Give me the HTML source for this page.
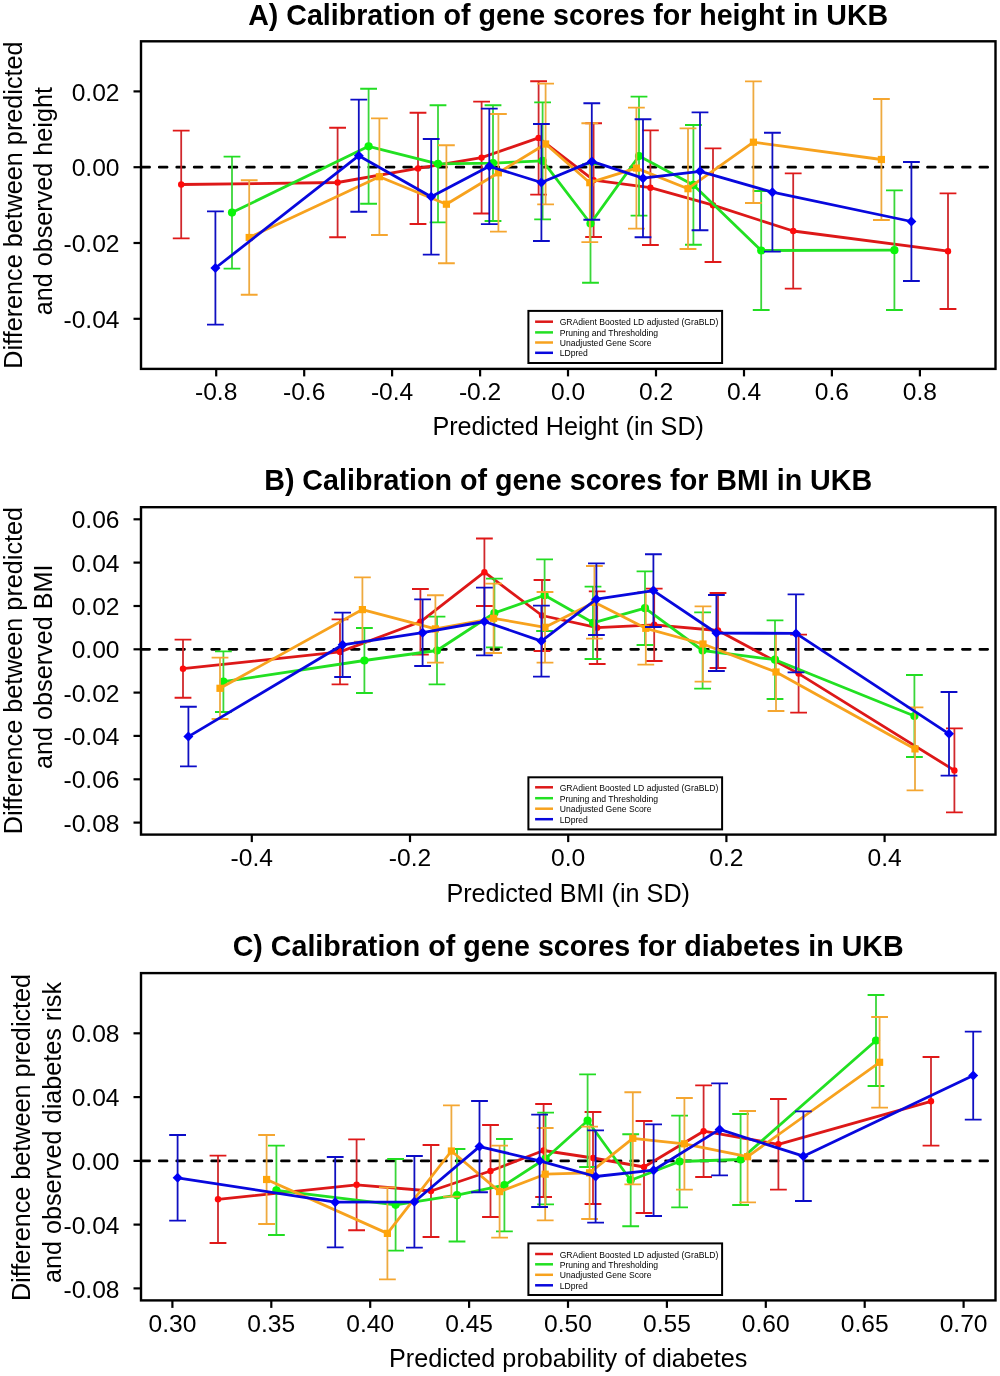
<!DOCTYPE html>
<html><head><meta charset="utf-8"><style>
html,body{margin:0;padding:0;background:#fff;width:1000px;height:1376px;overflow:hidden}
svg{display:block;will-change:transform}
text{font-family:"Liberation Sans",sans-serif;fill:#000}
</style></head><body>
<svg width="1000" height="1376" viewBox="0 0 1000 1376">
<rect width="1000" height="1376" fill="#fff"/>
<text x="568.2" y="24.8" text-anchor="middle" font-weight="bold" font-size="29.6" textLength="640" lengthAdjust="spacingAndGlyphs">A) Calibration of gene scores for height in UKB</text>
<line x1="141.8" y1="167.2" x2="994.5" y2="167.2" stroke="#000" stroke-width="2.7" stroke-dasharray="7.8 9.66" stroke-linecap="round"/>
<path d="M181.2 130.6V238.4" stroke="#d0282c" stroke-width="1.8" fill="none"/>
<path d="M172.8 130.6h16.8M172.8 238.4h16.8" stroke="#e01818" stroke-width="1.9" fill="none"/>
<path d="M337.6 127.8V237.2" stroke="#d0282c" stroke-width="1.8" fill="none"/>
<path d="M329.2 127.8h16.8M329.2 237.2h16.8" stroke="#e01818" stroke-width="1.9" fill="none"/>
<path d="M418.0 112.8V224.0" stroke="#d0282c" stroke-width="1.8" fill="none"/>
<path d="M409.6 112.8h16.8M409.6 224.0h16.8" stroke="#e01818" stroke-width="1.9" fill="none"/>
<path d="M481.6 101.6V213.5" stroke="#d0282c" stroke-width="1.8" fill="none"/>
<path d="M473.2 101.6h16.8M473.2 213.5h16.8" stroke="#e01818" stroke-width="1.9" fill="none"/>
<path d="M538.6 81.2V194.6" stroke="#d0282c" stroke-width="1.8" fill="none"/>
<path d="M530.2 81.2h16.8M530.2 194.6h16.8" stroke="#e01818" stroke-width="1.9" fill="none"/>
<path d="M593.6 123.2V237.0" stroke="#d0282c" stroke-width="1.8" fill="none"/>
<path d="M585.2 123.2h16.8M585.2 237.0h16.8" stroke="#e01818" stroke-width="1.9" fill="none"/>
<path d="M650.4 130.4V245.0" stroke="#d0282c" stroke-width="1.8" fill="none"/>
<path d="M642.0 130.4h16.8M642.0 245.0h16.8" stroke="#e01818" stroke-width="1.9" fill="none"/>
<path d="M713.0 148.4V262.0" stroke="#d0282c" stroke-width="1.8" fill="none"/>
<path d="M704.6 148.4h16.8M704.6 262.0h16.8" stroke="#e01818" stroke-width="1.9" fill="none"/>
<path d="M793.2 173.4V288.6" stroke="#d0282c" stroke-width="1.8" fill="none"/>
<path d="M784.8 173.4h16.8M784.8 288.6h16.8" stroke="#e01818" stroke-width="1.9" fill="none"/>
<path d="M948.0 193.4V309.0" stroke="#d0282c" stroke-width="1.8" fill="none"/>
<path d="M939.6 193.4h16.8M939.6 309.0h16.8" stroke="#e01818" stroke-width="1.9" fill="none"/>
<path d="M181.2 184.5 L337.6 182.5 L418.0 168.4 L481.6 157.6 L538.6 137.9 L593.6 180.1 L650.4 187.7 L713.0 205.2 L793.2 231.0 L948.0 251.2" stroke="#dd1818" stroke-width="2.8" fill="none" stroke-linejoin="round"/>
<circle cx="181.2" cy="184.5" r="3.2" fill="#ff0a0a"/>
<circle cx="337.6" cy="182.5" r="3.2" fill="#ff0a0a"/>
<circle cx="418.0" cy="168.4" r="3.2" fill="#ff0a0a"/>
<circle cx="481.6" cy="157.6" r="3.2" fill="#ff0a0a"/>
<circle cx="538.6" cy="137.9" r="3.2" fill="#ff0a0a"/>
<circle cx="593.6" cy="180.1" r="3.2" fill="#ff0a0a"/>
<circle cx="650.4" cy="187.7" r="3.2" fill="#ff0a0a"/>
<circle cx="713.0" cy="205.2" r="3.2" fill="#ff0a0a"/>
<circle cx="793.2" cy="231.0" r="3.2" fill="#ff0a0a"/>
<circle cx="948.0" cy="251.2" r="3.2" fill="#ff0a0a"/>
<path d="M232.0 156.6V268.6" stroke="#3ad63a" stroke-width="1.8" fill="none"/>
<path d="M223.6 156.6h16.8M223.6 268.6h16.8" stroke="#22dd22" stroke-width="1.9" fill="none"/>
<path d="M368.6 88.8V203.8" stroke="#3ad63a" stroke-width="1.8" fill="none"/>
<path d="M360.2 88.8h16.8M360.2 203.8h16.8" stroke="#22dd22" stroke-width="1.9" fill="none"/>
<path d="M438.0 105.2V222.4" stroke="#3ad63a" stroke-width="1.8" fill="none"/>
<path d="M429.6 105.2h16.8M429.6 222.4h16.8" stroke="#22dd22" stroke-width="1.9" fill="none"/>
<path d="M493.0 105.2V221.0" stroke="#3ad63a" stroke-width="1.8" fill="none"/>
<path d="M484.6 105.2h16.8M484.6 221.0h16.8" stroke="#22dd22" stroke-width="1.9" fill="none"/>
<path d="M542.6 102.4V219.4" stroke="#3ad63a" stroke-width="1.8" fill="none"/>
<path d="M534.2 102.4h16.8M534.2 219.4h16.8" stroke="#22dd22" stroke-width="1.9" fill="none"/>
<path d="M590.5 164.3V282.7" stroke="#3ad63a" stroke-width="1.8" fill="none"/>
<path d="M582.1 164.3h16.8M582.1 282.7h16.8" stroke="#22dd22" stroke-width="1.9" fill="none"/>
<path d="M639.0 96.6V215.6" stroke="#3ad63a" stroke-width="1.8" fill="none"/>
<path d="M630.6 96.6h16.8M630.6 215.6h16.8" stroke="#22dd22" stroke-width="1.9" fill="none"/>
<path d="M693.4 125.0V244.8" stroke="#3ad63a" stroke-width="1.8" fill="none"/>
<path d="M685.0 125.0h16.8M685.0 244.8h16.8" stroke="#22dd22" stroke-width="1.9" fill="none"/>
<path d="M761.2 191.0V310.0" stroke="#3ad63a" stroke-width="1.8" fill="none"/>
<path d="M752.8 191.0h16.8M752.8 310.0h16.8" stroke="#22dd22" stroke-width="1.9" fill="none"/>
<path d="M894.4 190.4V310.0" stroke="#3ad63a" stroke-width="1.8" fill="none"/>
<path d="M886.0 190.4h16.8M886.0 310.0h16.8" stroke="#22dd22" stroke-width="1.9" fill="none"/>
<path d="M232.0 212.6 L368.6 146.3 L438.0 163.8 L493.0 163.1 L542.6 160.9 L590.5 223.5 L639.0 156.1 L693.4 184.9 L761.2 250.5 L894.4 250.2" stroke="#22e022" stroke-width="2.8" fill="none" stroke-linejoin="round"/>
<circle cx="232.0" cy="212.6" r="4.1" fill="#0af50a"/>
<circle cx="368.6" cy="146.3" r="4.1" fill="#0af50a"/>
<circle cx="438.0" cy="163.8" r="4.1" fill="#0af50a"/>
<circle cx="493.0" cy="163.1" r="4.1" fill="#0af50a"/>
<circle cx="542.6" cy="160.9" r="4.1" fill="#0af50a"/>
<circle cx="590.5" cy="223.5" r="4.1" fill="#0af50a"/>
<circle cx="639.0" cy="156.1" r="4.1" fill="#0af50a"/>
<circle cx="693.4" cy="184.9" r="4.1" fill="#0af50a"/>
<circle cx="761.2" cy="250.5" r="4.1" fill="#0af50a"/>
<circle cx="894.4" cy="250.2" r="4.1" fill="#0af50a"/>
<path d="M249.2 180.2V294.8" stroke="#eeaa40" stroke-width="1.8" fill="none"/>
<path d="M240.8 180.2h16.8M240.8 294.8h16.8" stroke="#f5a630" stroke-width="1.9" fill="none"/>
<path d="M379.4 118.4V235.0" stroke="#eeaa40" stroke-width="1.8" fill="none"/>
<path d="M371.0 118.4h16.8M371.0 235.0h16.8" stroke="#f5a630" stroke-width="1.9" fill="none"/>
<path d="M446.4 145.2V263.2" stroke="#eeaa40" stroke-width="1.8" fill="none"/>
<path d="M438.0 145.2h16.8M438.0 263.2h16.8" stroke="#f5a630" stroke-width="1.9" fill="none"/>
<path d="M498.4 114.0V231.6" stroke="#eeaa40" stroke-width="1.8" fill="none"/>
<path d="M490.0 114.0h16.8M490.0 231.6h16.8" stroke="#f5a630" stroke-width="1.9" fill="none"/>
<path d="M545.6 83.6V204.4" stroke="#eeaa40" stroke-width="1.8" fill="none"/>
<path d="M537.2 83.6h16.8M537.2 204.4h16.8" stroke="#f5a630" stroke-width="1.9" fill="none"/>
<path d="M589.8 123.2V242.1" stroke="#eeaa40" stroke-width="1.8" fill="none"/>
<path d="M581.4 123.2h16.8M581.4 242.1h16.8" stroke="#f5a630" stroke-width="1.9" fill="none"/>
<path d="M636.4 107.6V228.6" stroke="#eeaa40" stroke-width="1.8" fill="none"/>
<path d="M628.0 107.6h16.8M628.0 228.6h16.8" stroke="#f5a630" stroke-width="1.9" fill="none"/>
<path d="M688.0 128.4V249.0" stroke="#eeaa40" stroke-width="1.8" fill="none"/>
<path d="M679.6 128.4h16.8M679.6 249.0h16.8" stroke="#f5a630" stroke-width="1.9" fill="none"/>
<path d="M753.4 81.4V203.0" stroke="#eeaa40" stroke-width="1.8" fill="none"/>
<path d="M745.0 81.4h16.8M745.0 203.0h16.8" stroke="#f5a630" stroke-width="1.9" fill="none"/>
<path d="M881.4 99.0V220.0" stroke="#eeaa40" stroke-width="1.8" fill="none"/>
<path d="M873.0 99.0h16.8M873.0 220.0h16.8" stroke="#f5a630" stroke-width="1.9" fill="none"/>
<path d="M249.2 237.5 L379.4 176.7 L446.4 204.2 L498.4 172.8 L545.6 144.0 L589.8 182.7 L636.4 168.1 L688.0 188.7 L753.4 142.2 L881.4 159.5" stroke="#f7a21e" stroke-width="2.8" fill="none" stroke-linejoin="round"/>
<rect x="245.6" y="233.9" width="7.2" height="7.2" fill="#ffa50a"/>
<rect x="375.8" y="173.1" width="7.2" height="7.2" fill="#ffa50a"/>
<rect x="442.8" y="200.6" width="7.2" height="7.2" fill="#ffa50a"/>
<rect x="494.8" y="169.2" width="7.2" height="7.2" fill="#ffa50a"/>
<rect x="542.0" y="140.4" width="7.2" height="7.2" fill="#ffa50a"/>
<rect x="586.2" y="179.1" width="7.2" height="7.2" fill="#ffa50a"/>
<rect x="632.8" y="164.5" width="7.2" height="7.2" fill="#ffa50a"/>
<rect x="684.4" y="185.1" width="7.2" height="7.2" fill="#ffa50a"/>
<rect x="749.8" y="138.6" width="7.2" height="7.2" fill="#ffa50a"/>
<rect x="877.8" y="155.9" width="7.2" height="7.2" fill="#ffa50a"/>
<path d="M215.4 211.4V324.6" stroke="#1010c0" stroke-width="1.8" fill="none"/>
<path d="M207.0 211.4h16.8M207.0 324.6h16.8" stroke="#0c0cc8" stroke-width="1.9" fill="none"/>
<path d="M358.8 99.6V211.8" stroke="#1010c0" stroke-width="1.8" fill="none"/>
<path d="M350.4 99.6h16.8M350.4 211.8h16.8" stroke="#0c0cc8" stroke-width="1.9" fill="none"/>
<path d="M431.2 139.0V254.6" stroke="#1010c0" stroke-width="1.8" fill="none"/>
<path d="M422.8 139.0h16.8M422.8 254.6h16.8" stroke="#0c0cc8" stroke-width="1.9" fill="none"/>
<path d="M489.3 108.6V224.1" stroke="#1010c0" stroke-width="1.8" fill="none"/>
<path d="M480.9 108.6h16.8M480.9 224.1h16.8" stroke="#0c0cc8" stroke-width="1.9" fill="none"/>
<path d="M541.4 124.0V241.0" stroke="#1010c0" stroke-width="1.8" fill="none"/>
<path d="M533.0 124.0h16.8M533.0 241.0h16.8" stroke="#0c0cc8" stroke-width="1.9" fill="none"/>
<path d="M591.8 103.2V219.7" stroke="#1010c0" stroke-width="1.8" fill="none"/>
<path d="M583.4 103.2h16.8M583.4 219.7h16.8" stroke="#0c0cc8" stroke-width="1.9" fill="none"/>
<path d="M643.0 119.2V237.2" stroke="#1010c0" stroke-width="1.8" fill="none"/>
<path d="M634.6 119.2h16.8M634.6 237.2h16.8" stroke="#0c0cc8" stroke-width="1.9" fill="none"/>
<path d="M700.0 112.4V230.2" stroke="#1010c0" stroke-width="1.8" fill="none"/>
<path d="M691.6 112.4h16.8M691.6 230.2h16.8" stroke="#0c0cc8" stroke-width="1.9" fill="none"/>
<path d="M772.4 132.8V251.6" stroke="#1010c0" stroke-width="1.8" fill="none"/>
<path d="M764.0 132.8h16.8M764.0 251.6h16.8" stroke="#0c0cc8" stroke-width="1.9" fill="none"/>
<path d="M911.4 162.0V281.0" stroke="#1010c0" stroke-width="1.8" fill="none"/>
<path d="M903.0 162.0h16.8M903.0 281.0h16.8" stroke="#0c0cc8" stroke-width="1.9" fill="none"/>
<path d="M215.4 268.0 L358.8 155.7 L431.2 196.8 L489.3 166.3 L541.4 182.5 L591.8 161.4 L643.0 178.2 L700.0 171.3 L772.4 192.2 L911.4 221.5" stroke="#0808dd" stroke-width="2.8" fill="none" stroke-linejoin="round"/>
<path d="M215.4 263.0L220.4 268.0L215.4 273.0L210.4 268.0Z" fill="#0000f5"/>
<path d="M358.8 150.7L363.8 155.7L358.8 160.7L353.8 155.7Z" fill="#0000f5"/>
<path d="M431.2 191.8L436.2 196.8L431.2 201.8L426.2 196.8Z" fill="#0000f5"/>
<path d="M489.3 161.3L494.3 166.3L489.3 171.3L484.3 166.3Z" fill="#0000f5"/>
<path d="M541.4 177.5L546.4 182.5L541.4 187.5L536.4 182.5Z" fill="#0000f5"/>
<path d="M591.8 156.4L596.8 161.4L591.8 166.4L586.8 161.4Z" fill="#0000f5"/>
<path d="M643.0 173.2L648.0 178.2L643.0 183.2L638.0 178.2Z" fill="#0000f5"/>
<path d="M700.0 166.3L705.0 171.3L700.0 176.3L695.0 171.3Z" fill="#0000f5"/>
<path d="M772.4 187.2L777.4 192.2L772.4 197.2L767.4 192.2Z" fill="#0000f5"/>
<path d="M911.4 216.5L916.4 221.5L911.4 226.5L906.4 221.5Z" fill="#0000f5"/>
<rect x="141" y="41.3" width="854.5" height="327.59999999999997" fill="none" stroke="#000" stroke-width="2.4"/>
<line x1="133.5" y1="91.4" x2="141" y2="91.4" stroke="#000" stroke-width="2.2"/>
<text x="119.5" y="100.5" text-anchor="end" font-size="24.6">0.02</text>
<line x1="133.5" y1="167.2" x2="141" y2="167.2" stroke="#000" stroke-width="2.2"/>
<text x="119.5" y="176.3" text-anchor="end" font-size="24.6">0.00</text>
<line x1="133.5" y1="243.0" x2="141" y2="243.0" stroke="#000" stroke-width="2.2"/>
<text x="119.5" y="252.1" text-anchor="end" font-size="24.6">-0.02</text>
<line x1="133.5" y1="318.8" x2="141" y2="318.8" stroke="#000" stroke-width="2.2"/>
<text x="119.5" y="327.9" text-anchor="end" font-size="24.6">-0.04</text>
<line x1="216.2" y1="368.9" x2="216.2" y2="376.4" stroke="#000" stroke-width="2.2"/>
<text x="216.2" y="400.3" text-anchor="middle" font-size="24.6">-0.8</text>
<line x1="304.2" y1="368.9" x2="304.2" y2="376.4" stroke="#000" stroke-width="2.2"/>
<text x="304.2" y="400.3" text-anchor="middle" font-size="24.6">-0.6</text>
<line x1="392.1" y1="368.9" x2="392.1" y2="376.4" stroke="#000" stroke-width="2.2"/>
<text x="392.1" y="400.3" text-anchor="middle" font-size="24.6">-0.4</text>
<line x1="480.1" y1="368.9" x2="480.1" y2="376.4" stroke="#000" stroke-width="2.2"/>
<text x="480.1" y="400.3" text-anchor="middle" font-size="24.6">-0.2</text>
<line x1="568.0" y1="368.9" x2="568.0" y2="376.4" stroke="#000" stroke-width="2.2"/>
<text x="568.0" y="400.3" text-anchor="middle" font-size="24.6">0.0</text>
<line x1="656.0" y1="368.9" x2="656.0" y2="376.4" stroke="#000" stroke-width="2.2"/>
<text x="656.0" y="400.3" text-anchor="middle" font-size="24.6">0.2</text>
<line x1="744.0" y1="368.9" x2="744.0" y2="376.4" stroke="#000" stroke-width="2.2"/>
<text x="744.0" y="400.3" text-anchor="middle" font-size="24.6">0.4</text>
<line x1="831.9" y1="368.9" x2="831.9" y2="376.4" stroke="#000" stroke-width="2.2"/>
<text x="831.9" y="400.3" text-anchor="middle" font-size="24.6">0.6</text>
<line x1="919.9" y1="368.9" x2="919.9" y2="376.4" stroke="#000" stroke-width="2.2"/>
<text x="919.9" y="400.3" text-anchor="middle" font-size="24.6">0.8</text>
<text transform="translate(21.5,205.1) rotate(-90)" text-anchor="middle" font-size="25.2">Difference between predicted</text>
<text transform="translate(52.3,201.2) rotate(-90)" text-anchor="middle" font-size="25.2">and observed height</text>
<text x="568.2" y="435.4" text-anchor="middle" font-size="25.2">Predicted Height (in SD)</text>
<rect x="528.4" y="310.9" width="193.70000000000005" height="52.10000000000002" fill="#fff" stroke="#000" stroke-width="2.0"/>
<line x1="535.1" y1="321.7" x2="553.0" y2="321.7" stroke="#dd1818" stroke-width="2.5"/>
<text x="559.6999999999999" y="325.2" font-size="8.6">GRAdient Boosted LD adjusted (GraBLD)</text>
<line x1="535.1" y1="332.4" x2="553.0" y2="332.4" stroke="#22e022" stroke-width="2.5"/>
<text x="559.6999999999999" y="335.9" font-size="8.6">Pruning and Thresholding</text>
<line x1="535.1" y1="342.5" x2="553.0" y2="342.5" stroke="#f7a21e" stroke-width="2.5"/>
<text x="559.6999999999999" y="346.0" font-size="8.6">Unadjusted Gene Score</text>
<line x1="535.1" y1="352.8" x2="553.0" y2="352.8" stroke="#0808dd" stroke-width="2.5"/>
<text x="559.6999999999999" y="356.3" font-size="8.6">LDpred</text>
<text x="568.2" y="490.3" text-anchor="middle" font-weight="bold" font-size="29.6" textLength="608" lengthAdjust="spacingAndGlyphs">B) Calibration of gene scores for BMI in UKB</text>
<line x1="141.8" y1="649.3" x2="994.5" y2="649.3" stroke="#000" stroke-width="2.7" stroke-dasharray="7.8 9.66" stroke-linecap="round"/>
<path d="M183.0 639.6V697.8" stroke="#d0282c" stroke-width="1.8" fill="none"/>
<path d="M174.6 639.6h16.8M174.6 697.8h16.8" stroke="#e01818" stroke-width="1.9" fill="none"/>
<path d="M340.0 619.4V684.4" stroke="#d0282c" stroke-width="1.8" fill="none"/>
<path d="M331.6 619.4h16.8M331.6 684.4h16.8" stroke="#e01818" stroke-width="1.9" fill="none"/>
<path d="M420.4 589.0V654.6" stroke="#d0282c" stroke-width="1.8" fill="none"/>
<path d="M412.0 589.0h16.8M412.0 654.6h16.8" stroke="#e01818" stroke-width="1.9" fill="none"/>
<path d="M484.4 538.5V606.0" stroke="#d0282c" stroke-width="1.8" fill="none"/>
<path d="M476.0 538.5h16.8M476.0 606.0h16.8" stroke="#e01818" stroke-width="1.9" fill="none"/>
<path d="M542.0 580.0V651.0" stroke="#d0282c" stroke-width="1.8" fill="none"/>
<path d="M533.6 580.0h16.8M533.6 651.0h16.8" stroke="#e01818" stroke-width="1.9" fill="none"/>
<path d="M597.2 591.4V664.0" stroke="#d0282c" stroke-width="1.8" fill="none"/>
<path d="M588.8 591.4h16.8M588.8 664.0h16.8" stroke="#e01818" stroke-width="1.9" fill="none"/>
<path d="M654.2 588.6V661.0" stroke="#d0282c" stroke-width="1.8" fill="none"/>
<path d="M645.8 588.6h16.8M645.8 661.0h16.8" stroke="#e01818" stroke-width="1.9" fill="none"/>
<path d="M718.0 593.0V668.0" stroke="#d0282c" stroke-width="1.8" fill="none"/>
<path d="M709.6 593.0h16.8M709.6 668.0h16.8" stroke="#e01818" stroke-width="1.9" fill="none"/>
<path d="M798.6 634.6V712.6" stroke="#d0282c" stroke-width="1.8" fill="none"/>
<path d="M790.2 634.6h16.8M790.2 712.6h16.8" stroke="#e01818" stroke-width="1.9" fill="none"/>
<path d="M954.4 728.4V812.4" stroke="#d0282c" stroke-width="1.8" fill="none"/>
<path d="M946.0 728.4h16.8M946.0 812.4h16.8" stroke="#e01818" stroke-width="1.9" fill="none"/>
<path d="M183.0 668.7 L340.0 651.9 L420.4 621.8 L484.4 572.2 L542.0 615.5 L597.2 627.7 L654.2 624.8 L718.0 630.5 L798.6 673.6 L954.4 770.4" stroke="#dd1818" stroke-width="2.8" fill="none" stroke-linejoin="round"/>
<circle cx="183.0" cy="668.7" r="3.2" fill="#ff0a0a"/>
<circle cx="340.0" cy="651.9" r="3.2" fill="#ff0a0a"/>
<circle cx="420.4" cy="621.8" r="3.2" fill="#ff0a0a"/>
<circle cx="484.4" cy="572.2" r="3.2" fill="#ff0a0a"/>
<circle cx="542.0" cy="615.5" r="3.2" fill="#ff0a0a"/>
<circle cx="597.2" cy="627.7" r="3.2" fill="#ff0a0a"/>
<circle cx="654.2" cy="624.8" r="3.2" fill="#ff0a0a"/>
<circle cx="718.0" cy="630.5" r="3.2" fill="#ff0a0a"/>
<circle cx="798.6" cy="673.6" r="3.2" fill="#ff0a0a"/>
<circle cx="954.4" cy="770.4" r="3.2" fill="#ff0a0a"/>
<path d="M223.4 651.4V712.0" stroke="#3ad63a" stroke-width="1.8" fill="none"/>
<path d="M215.0 651.4h16.8M215.0 712.0h16.8" stroke="#22dd22" stroke-width="1.9" fill="none"/>
<path d="M364.4 628.0V693.0" stroke="#3ad63a" stroke-width="1.8" fill="none"/>
<path d="M356.0 628.0h16.8M356.0 693.0h16.8" stroke="#22dd22" stroke-width="1.9" fill="none"/>
<path d="M437.0 616.6V684.4" stroke="#3ad63a" stroke-width="1.8" fill="none"/>
<path d="M428.6 616.6h16.8M428.6 684.4h16.8" stroke="#22dd22" stroke-width="1.9" fill="none"/>
<path d="M494.4 578.6V647.4" stroke="#3ad63a" stroke-width="1.8" fill="none"/>
<path d="M486.0 578.6h16.8M486.0 647.4h16.8" stroke="#22dd22" stroke-width="1.9" fill="none"/>
<path d="M544.6 559.4V631.0" stroke="#3ad63a" stroke-width="1.8" fill="none"/>
<path d="M536.2 559.4h16.8M536.2 631.0h16.8" stroke="#22dd22" stroke-width="1.9" fill="none"/>
<path d="M593.0 586.6V659.0" stroke="#3ad63a" stroke-width="1.8" fill="none"/>
<path d="M584.6 586.6h16.8M584.6 659.0h16.8" stroke="#22dd22" stroke-width="1.9" fill="none"/>
<path d="M645.0 571.4V645.0" stroke="#3ad63a" stroke-width="1.8" fill="none"/>
<path d="M636.6 571.4h16.8M636.6 645.0h16.8" stroke="#22dd22" stroke-width="1.9" fill="none"/>
<path d="M702.6 612.4V688.6" stroke="#3ad63a" stroke-width="1.8" fill="none"/>
<path d="M694.2 612.4h16.8M694.2 688.6h16.8" stroke="#22dd22" stroke-width="1.9" fill="none"/>
<path d="M775.0 620.4V699.0" stroke="#3ad63a" stroke-width="1.8" fill="none"/>
<path d="M766.6 620.4h16.8M766.6 699.0h16.8" stroke="#22dd22" stroke-width="1.9" fill="none"/>
<path d="M914.4 675.0V757.0" stroke="#3ad63a" stroke-width="1.8" fill="none"/>
<path d="M906.0 675.0h16.8M906.0 757.0h16.8" stroke="#22dd22" stroke-width="1.9" fill="none"/>
<path d="M223.4 681.7 L364.4 660.5 L437.0 650.5 L494.4 613.0 L544.6 595.2 L593.0 622.8 L645.0 608.2 L702.6 650.5 L775.0 659.7 L914.4 716.0" stroke="#22e022" stroke-width="2.8" fill="none" stroke-linejoin="round"/>
<circle cx="223.4" cy="681.7" r="4.1" fill="#0af50a"/>
<circle cx="364.4" cy="660.5" r="4.1" fill="#0af50a"/>
<circle cx="437.0" cy="650.5" r="4.1" fill="#0af50a"/>
<circle cx="494.4" cy="613.0" r="4.1" fill="#0af50a"/>
<circle cx="544.6" cy="595.2" r="4.1" fill="#0af50a"/>
<circle cx="593.0" cy="622.8" r="4.1" fill="#0af50a"/>
<circle cx="645.0" cy="608.2" r="4.1" fill="#0af50a"/>
<circle cx="702.6" cy="650.5" r="4.1" fill="#0af50a"/>
<circle cx="775.0" cy="659.7" r="4.1" fill="#0af50a"/>
<circle cx="914.4" cy="716.0" r="4.1" fill="#0af50a"/>
<path d="M220.0 657.6V719.0" stroke="#eeaa40" stroke-width="1.8" fill="none"/>
<path d="M211.6 657.6h16.8M211.6 719.0h16.8" stroke="#f5a630" stroke-width="1.9" fill="none"/>
<path d="M362.4 577.4V641.8" stroke="#eeaa40" stroke-width="1.8" fill="none"/>
<path d="M354.0 577.4h16.8M354.0 641.8h16.8" stroke="#f5a630" stroke-width="1.9" fill="none"/>
<path d="M435.4 595.2V662.6" stroke="#eeaa40" stroke-width="1.8" fill="none"/>
<path d="M427.0 595.2h16.8M427.0 662.6h16.8" stroke="#f5a630" stroke-width="1.9" fill="none"/>
<path d="M493.6 583.6V653.0" stroke="#eeaa40" stroke-width="1.8" fill="none"/>
<path d="M485.2 583.6h16.8M485.2 653.0h16.8" stroke="#f5a630" stroke-width="1.9" fill="none"/>
<path d="M545.0 592.0V662.6" stroke="#eeaa40" stroke-width="1.8" fill="none"/>
<path d="M536.6 592.0h16.8M536.6 662.6h16.8" stroke="#f5a630" stroke-width="1.9" fill="none"/>
<path d="M594.4 566.0V638.6" stroke="#eeaa40" stroke-width="1.8" fill="none"/>
<path d="M586.0 566.0h16.8M586.0 638.6h16.8" stroke="#f5a630" stroke-width="1.9" fill="none"/>
<path d="M645.8 592.0V664.6" stroke="#eeaa40" stroke-width="1.8" fill="none"/>
<path d="M637.4 592.0h16.8M637.4 664.6h16.8" stroke="#f5a630" stroke-width="1.9" fill="none"/>
<path d="M703.0 606.4V681.6" stroke="#eeaa40" stroke-width="1.8" fill="none"/>
<path d="M694.6 606.4h16.8M694.6 681.6h16.8" stroke="#f5a630" stroke-width="1.9" fill="none"/>
<path d="M776.0 633.0V711.0" stroke="#eeaa40" stroke-width="1.8" fill="none"/>
<path d="M767.6 633.0h16.8M767.6 711.0h16.8" stroke="#f5a630" stroke-width="1.9" fill="none"/>
<path d="M915.0 707.4V790.4" stroke="#eeaa40" stroke-width="1.8" fill="none"/>
<path d="M906.6 707.4h16.8M906.6 790.4h16.8" stroke="#f5a630" stroke-width="1.9" fill="none"/>
<path d="M220.0 688.3 L362.4 609.6 L435.4 628.9 L493.6 618.3 L545.0 627.3 L594.4 602.3 L645.8 628.3 L703.0 644.0 L776.0 672.0 L915.0 748.9" stroke="#f7a21e" stroke-width="2.8" fill="none" stroke-linejoin="round"/>
<rect x="216.4" y="684.7" width="7.2" height="7.2" fill="#ffa50a"/>
<rect x="358.8" y="606.0" width="7.2" height="7.2" fill="#ffa50a"/>
<rect x="431.8" y="625.3" width="7.2" height="7.2" fill="#ffa50a"/>
<rect x="490.0" y="614.7" width="7.2" height="7.2" fill="#ffa50a"/>
<rect x="541.4" y="623.7" width="7.2" height="7.2" fill="#ffa50a"/>
<rect x="590.8" y="598.7" width="7.2" height="7.2" fill="#ffa50a"/>
<rect x="642.2" y="624.7" width="7.2" height="7.2" fill="#ffa50a"/>
<rect x="699.4" y="640.4" width="7.2" height="7.2" fill="#ffa50a"/>
<rect x="772.4" y="668.4" width="7.2" height="7.2" fill="#ffa50a"/>
<rect x="911.4" y="745.3" width="7.2" height="7.2" fill="#ffa50a"/>
<path d="M188.4 706.8V766.4" stroke="#1010c0" stroke-width="1.8" fill="none"/>
<path d="M180.0 706.8h16.8M180.0 766.4h16.8" stroke="#0c0cc8" stroke-width="1.9" fill="none"/>
<path d="M342.6 612.6V677.0" stroke="#1010c0" stroke-width="1.8" fill="none"/>
<path d="M334.2 612.6h16.8M334.2 677.0h16.8" stroke="#0c0cc8" stroke-width="1.9" fill="none"/>
<path d="M422.6 599.4V666.0" stroke="#1010c0" stroke-width="1.8" fill="none"/>
<path d="M414.2 599.4h16.8M414.2 666.0h16.8" stroke="#0c0cc8" stroke-width="1.9" fill="none"/>
<path d="M484.4 587.6V655.4" stroke="#1010c0" stroke-width="1.8" fill="none"/>
<path d="M476.0 587.6h16.8M476.0 655.4h16.8" stroke="#0c0cc8" stroke-width="1.9" fill="none"/>
<path d="M541.4 605.6V676.6" stroke="#1010c0" stroke-width="1.8" fill="none"/>
<path d="M533.0 605.6h16.8M533.0 676.6h16.8" stroke="#0c0cc8" stroke-width="1.9" fill="none"/>
<path d="M596.4 563.4V635.0" stroke="#1010c0" stroke-width="1.8" fill="none"/>
<path d="M588.0 563.4h16.8M588.0 635.0h16.8" stroke="#0c0cc8" stroke-width="1.9" fill="none"/>
<path d="M653.4 554.2V627.0" stroke="#1010c0" stroke-width="1.8" fill="none"/>
<path d="M645.0 554.2h16.8M645.0 627.0h16.8" stroke="#0c0cc8" stroke-width="1.9" fill="none"/>
<path d="M716.4 595.0V671.0" stroke="#1010c0" stroke-width="1.8" fill="none"/>
<path d="M708.0 595.0h16.8M708.0 671.0h16.8" stroke="#0c0cc8" stroke-width="1.9" fill="none"/>
<path d="M796.0 594.4V672.4" stroke="#1010c0" stroke-width="1.8" fill="none"/>
<path d="M787.6 594.4h16.8M787.6 672.4h16.8" stroke="#0c0cc8" stroke-width="1.9" fill="none"/>
<path d="M949.0 692.0V775.6" stroke="#1010c0" stroke-width="1.8" fill="none"/>
<path d="M940.6 692.0h16.8M940.6 775.6h16.8" stroke="#0c0cc8" stroke-width="1.9" fill="none"/>
<path d="M188.4 736.6 L342.6 644.8 L422.6 632.7 L484.4 621.5 L541.4 641.1 L596.4 599.2 L653.4 590.6 L716.4 633.0 L796.0 633.4 L949.0 733.8" stroke="#0808dd" stroke-width="2.8" fill="none" stroke-linejoin="round"/>
<path d="M188.4 731.6L193.4 736.6L188.4 741.6L183.4 736.6Z" fill="#0000f5"/>
<path d="M342.6 639.8L347.6 644.8L342.6 649.8L337.6 644.8Z" fill="#0000f5"/>
<path d="M422.6 627.7L427.6 632.7L422.6 637.7L417.6 632.7Z" fill="#0000f5"/>
<path d="M484.4 616.5L489.4 621.5L484.4 626.5L479.4 621.5Z" fill="#0000f5"/>
<path d="M541.4 636.1L546.4 641.1L541.4 646.1L536.4 641.1Z" fill="#0000f5"/>
<path d="M596.4 594.2L601.4 599.2L596.4 604.2L591.4 599.2Z" fill="#0000f5"/>
<path d="M653.4 585.6L658.4 590.6L653.4 595.6L648.4 590.6Z" fill="#0000f5"/>
<path d="M716.4 628.0L721.4 633.0L716.4 638.0L711.4 633.0Z" fill="#0000f5"/>
<path d="M796.0 628.4L801.0 633.4L796.0 638.4L791.0 633.4Z" fill="#0000f5"/>
<path d="M949.0 728.8L954.0 733.8L949.0 738.8L944.0 733.8Z" fill="#0000f5"/>
<rect x="141" y="507.2" width="854.5" height="327.40000000000003" fill="none" stroke="#000" stroke-width="2.4"/>
<line x1="133.5" y1="519.3" x2="141" y2="519.3" stroke="#000" stroke-width="2.2"/>
<text x="119.5" y="528.4" text-anchor="end" font-size="24.6">0.06</text>
<line x1="133.5" y1="562.6" x2="141" y2="562.6" stroke="#000" stroke-width="2.2"/>
<text x="119.5" y="571.7" text-anchor="end" font-size="24.6">0.04</text>
<line x1="133.5" y1="606.0" x2="141" y2="606.0" stroke="#000" stroke-width="2.2"/>
<text x="119.5" y="615.1" text-anchor="end" font-size="24.6">0.02</text>
<line x1="133.5" y1="649.3" x2="141" y2="649.3" stroke="#000" stroke-width="2.2"/>
<text x="119.5" y="658.4" text-anchor="end" font-size="24.6">0.00</text>
<line x1="133.5" y1="692.6" x2="141" y2="692.6" stroke="#000" stroke-width="2.2"/>
<text x="119.5" y="701.7" text-anchor="end" font-size="24.6">-0.02</text>
<line x1="133.5" y1="735.9" x2="141" y2="735.9" stroke="#000" stroke-width="2.2"/>
<text x="119.5" y="745.0" text-anchor="end" font-size="24.6">-0.04</text>
<line x1="133.5" y1="779.3" x2="141" y2="779.3" stroke="#000" stroke-width="2.2"/>
<text x="119.5" y="788.4" text-anchor="end" font-size="24.6">-0.06</text>
<line x1="133.5" y1="822.6" x2="141" y2="822.6" stroke="#000" stroke-width="2.2"/>
<text x="119.5" y="831.7" text-anchor="end" font-size="24.6">-0.08</text>
<line x1="251.8" y1="834.6" x2="251.8" y2="842.1" stroke="#000" stroke-width="2.2"/>
<text x="251.8" y="866.0" text-anchor="middle" font-size="24.6">-0.4</text>
<line x1="410.0" y1="834.6" x2="410.0" y2="842.1" stroke="#000" stroke-width="2.2"/>
<text x="410.0" y="866.0" text-anchor="middle" font-size="24.6">-0.2</text>
<line x1="568.2" y1="834.6" x2="568.2" y2="842.1" stroke="#000" stroke-width="2.2"/>
<text x="568.2" y="866.0" text-anchor="middle" font-size="24.6">0.0</text>
<line x1="726.4" y1="834.6" x2="726.4" y2="842.1" stroke="#000" stroke-width="2.2"/>
<text x="726.4" y="866.0" text-anchor="middle" font-size="24.6">0.2</text>
<line x1="884.6" y1="834.6" x2="884.6" y2="842.1" stroke="#000" stroke-width="2.2"/>
<text x="884.6" y="866.0" text-anchor="middle" font-size="24.6">0.4</text>
<text transform="translate(21.5,670.6) rotate(-90)" text-anchor="middle" font-size="25.2">Difference between predicted</text>
<text transform="translate(52.3,666.8) rotate(-90)" text-anchor="middle" font-size="25.2">and observed BMI</text>
<text x="568.2" y="901.6" text-anchor="middle" font-size="25.2">Predicted BMI (in SD)</text>
<rect x="528.4" y="777.3" width="193.70000000000005" height="52.10000000000002" fill="#fff" stroke="#000" stroke-width="2.0"/>
<line x1="535.1" y1="787.3" x2="553.0" y2="787.3" stroke="#dd1818" stroke-width="2.5"/>
<text x="559.6999999999999" y="790.8" font-size="8.6">GRAdient Boosted LD adjusted (GraBLD)</text>
<line x1="535.1" y1="798.2" x2="553.0" y2="798.2" stroke="#22e022" stroke-width="2.5"/>
<text x="559.6999999999999" y="801.7" font-size="8.6">Pruning and Thresholding</text>
<line x1="535.1" y1="808.7" x2="553.0" y2="808.7" stroke="#f7a21e" stroke-width="2.5"/>
<text x="559.6999999999999" y="812.2" font-size="8.6">Unadjusted Gene Score</text>
<line x1="535.1" y1="819.2" x2="553.0" y2="819.2" stroke="#0808dd" stroke-width="2.5"/>
<text x="559.6999999999999" y="822.7" font-size="8.6">LDpred</text>
<text x="568.2" y="956.3" text-anchor="middle" font-weight="bold" font-size="29.6" textLength="671" lengthAdjust="spacingAndGlyphs">C) Calibration of gene scores for diabetes in UKB</text>
<line x1="141.8" y1="1160.9" x2="994.5" y2="1160.9" stroke="#000" stroke-width="2.7" stroke-dasharray="7.8 9.66" stroke-linecap="round"/>
<path d="M218.0 1155.6V1243.0" stroke="#d0282c" stroke-width="1.8" fill="none"/>
<path d="M209.6 1155.6h16.8M209.6 1243.0h16.8" stroke="#e01818" stroke-width="1.9" fill="none"/>
<path d="M356.6 1139.4V1230.2" stroke="#d0282c" stroke-width="1.8" fill="none"/>
<path d="M348.2 1139.4h16.8M348.2 1230.2h16.8" stroke="#e01818" stroke-width="1.9" fill="none"/>
<path d="M431.0 1145.0V1237.0" stroke="#d0282c" stroke-width="1.8" fill="none"/>
<path d="M422.6 1145.0h16.8M422.6 1237.0h16.8" stroke="#e01818" stroke-width="1.9" fill="none"/>
<path d="M490.5 1125.0V1217.0" stroke="#d0282c" stroke-width="1.8" fill="none"/>
<path d="M482.1 1125.0h16.8M482.1 1217.0h16.8" stroke="#e01818" stroke-width="1.9" fill="none"/>
<path d="M543.6 1104.0V1197.0" stroke="#d0282c" stroke-width="1.8" fill="none"/>
<path d="M535.2 1104.0h16.8M535.2 1197.0h16.8" stroke="#e01818" stroke-width="1.9" fill="none"/>
<path d="M593.0 1112.0V1204.0" stroke="#d0282c" stroke-width="1.8" fill="none"/>
<path d="M584.6 1112.0h16.8M584.6 1204.0h16.8" stroke="#e01818" stroke-width="1.9" fill="none"/>
<path d="M644.0 1121.0V1213.0" stroke="#d0282c" stroke-width="1.8" fill="none"/>
<path d="M635.6 1121.0h16.8M635.6 1213.0h16.8" stroke="#e01818" stroke-width="1.9" fill="none"/>
<path d="M703.6 1085.4V1177.0" stroke="#d0282c" stroke-width="1.8" fill="none"/>
<path d="M695.2 1085.4h16.8M695.2 1177.0h16.8" stroke="#e01818" stroke-width="1.9" fill="none"/>
<path d="M778.4 1099.0V1189.6" stroke="#d0282c" stroke-width="1.8" fill="none"/>
<path d="M770.0 1099.0h16.8M770.0 1189.6h16.8" stroke="#e01818" stroke-width="1.9" fill="none"/>
<path d="M931.0 1057.0V1145.6" stroke="#d0282c" stroke-width="1.8" fill="none"/>
<path d="M922.6 1057.0h16.8M922.6 1145.6h16.8" stroke="#e01818" stroke-width="1.9" fill="none"/>
<path d="M218.0 1199.3 L356.6 1184.8 L431.0 1191.0 L490.5 1171.0 L543.6 1150.5 L593.0 1158.0 L644.0 1167.0 L703.6 1131.2 L778.4 1144.3 L931.0 1101.3" stroke="#dd1818" stroke-width="2.8" fill="none" stroke-linejoin="round"/>
<circle cx="218.0" cy="1199.3" r="3.2" fill="#ff0a0a"/>
<circle cx="356.6" cy="1184.8" r="3.2" fill="#ff0a0a"/>
<circle cx="431.0" cy="1191.0" r="3.2" fill="#ff0a0a"/>
<circle cx="490.5" cy="1171.0" r="3.2" fill="#ff0a0a"/>
<circle cx="543.6" cy="1150.5" r="3.2" fill="#ff0a0a"/>
<circle cx="593.0" cy="1158.0" r="3.2" fill="#ff0a0a"/>
<circle cx="644.0" cy="1167.0" r="3.2" fill="#ff0a0a"/>
<circle cx="703.6" cy="1131.2" r="3.2" fill="#ff0a0a"/>
<circle cx="778.4" cy="1144.3" r="3.2" fill="#ff0a0a"/>
<circle cx="931.0" cy="1101.3" r="3.2" fill="#ff0a0a"/>
<path d="M276.4 1145.6V1235.0" stroke="#3ad63a" stroke-width="1.8" fill="none"/>
<path d="M268.0 1145.6h16.8M268.0 1235.0h16.8" stroke="#22dd22" stroke-width="1.9" fill="none"/>
<path d="M395.6 1159.0V1250.6" stroke="#3ad63a" stroke-width="1.8" fill="none"/>
<path d="M387.2 1159.0h16.8M387.2 1250.6h16.8" stroke="#22dd22" stroke-width="1.9" fill="none"/>
<path d="M457.0 1149.0V1241.5" stroke="#3ad63a" stroke-width="1.8" fill="none"/>
<path d="M448.6 1149.0h16.8M448.6 1241.5h16.8" stroke="#22dd22" stroke-width="1.9" fill="none"/>
<path d="M504.4 1139.0V1231.4" stroke="#3ad63a" stroke-width="1.8" fill="none"/>
<path d="M496.0 1139.0h16.8M496.0 1231.4h16.8" stroke="#22dd22" stroke-width="1.9" fill="none"/>
<path d="M545.6 1112.6V1204.4" stroke="#3ad63a" stroke-width="1.8" fill="none"/>
<path d="M537.2 1112.6h16.8M537.2 1204.4h16.8" stroke="#22dd22" stroke-width="1.9" fill="none"/>
<path d="M587.6 1074.4V1167.0" stroke="#3ad63a" stroke-width="1.8" fill="none"/>
<path d="M579.2 1074.4h16.8M579.2 1167.0h16.8" stroke="#22dd22" stroke-width="1.9" fill="none"/>
<path d="M630.7 1134.2V1226.2" stroke="#3ad63a" stroke-width="1.8" fill="none"/>
<path d="M622.3 1134.2h16.8M622.3 1226.2h16.8" stroke="#22dd22" stroke-width="1.9" fill="none"/>
<path d="M679.6 1115.6V1207.4" stroke="#3ad63a" stroke-width="1.8" fill="none"/>
<path d="M671.2 1115.6h16.8M671.2 1207.4h16.8" stroke="#22dd22" stroke-width="1.9" fill="none"/>
<path d="M740.6 1114.0V1205.0" stroke="#3ad63a" stroke-width="1.8" fill="none"/>
<path d="M732.2 1114.0h16.8M732.2 1205.0h16.8" stroke="#22dd22" stroke-width="1.9" fill="none"/>
<path d="M876.0 995.0V1086.0" stroke="#3ad63a" stroke-width="1.8" fill="none"/>
<path d="M867.6 995.0h16.8M867.6 1086.0h16.8" stroke="#22dd22" stroke-width="1.9" fill="none"/>
<path d="M276.4 1190.3 L395.6 1204.8 L457.0 1195.2 L504.4 1185.2 L545.6 1158.5 L587.6 1120.7 L630.7 1180.2 L679.6 1161.5 L740.6 1159.5 L876.0 1040.5" stroke="#22e022" stroke-width="2.8" fill="none" stroke-linejoin="round"/>
<circle cx="276.4" cy="1190.3" r="4.1" fill="#0af50a"/>
<circle cx="395.6" cy="1204.8" r="4.1" fill="#0af50a"/>
<circle cx="457.0" cy="1195.2" r="4.1" fill="#0af50a"/>
<circle cx="504.4" cy="1185.2" r="4.1" fill="#0af50a"/>
<circle cx="545.6" cy="1158.5" r="4.1" fill="#0af50a"/>
<circle cx="587.6" cy="1120.7" r="4.1" fill="#0af50a"/>
<circle cx="630.7" cy="1180.2" r="4.1" fill="#0af50a"/>
<circle cx="679.6" cy="1161.5" r="4.1" fill="#0af50a"/>
<circle cx="740.6" cy="1159.5" r="4.1" fill="#0af50a"/>
<circle cx="876.0" cy="1040.5" r="4.1" fill="#0af50a"/>
<path d="M266.6 1135.0V1224.0" stroke="#eeaa40" stroke-width="1.8" fill="none"/>
<path d="M258.2 1135.0h16.8M258.2 1224.0h16.8" stroke="#f5a630" stroke-width="1.9" fill="none"/>
<path d="M387.4 1187.4V1279.4" stroke="#eeaa40" stroke-width="1.8" fill="none"/>
<path d="M379.0 1187.4h16.8M379.0 1279.4h16.8" stroke="#f5a630" stroke-width="1.9" fill="none"/>
<path d="M451.4 1105.4V1196.6" stroke="#eeaa40" stroke-width="1.8" fill="none"/>
<path d="M443.0 1105.4h16.8M443.0 1196.6h16.8" stroke="#f5a630" stroke-width="1.9" fill="none"/>
<path d="M499.6 1145.6V1237.6" stroke="#eeaa40" stroke-width="1.8" fill="none"/>
<path d="M491.2 1145.6h16.8M491.2 1237.6h16.8" stroke="#f5a630" stroke-width="1.9" fill="none"/>
<path d="M545.2 1128.0V1220.4" stroke="#eeaa40" stroke-width="1.8" fill="none"/>
<path d="M536.8 1128.0h16.8M536.8 1220.4h16.8" stroke="#f5a630" stroke-width="1.9" fill="none"/>
<path d="M589.6 1126.6V1219.0" stroke="#eeaa40" stroke-width="1.8" fill="none"/>
<path d="M581.2 1126.6h16.8M581.2 1219.0h16.8" stroke="#f5a630" stroke-width="1.9" fill="none"/>
<path d="M632.8 1092.2V1184.4" stroke="#eeaa40" stroke-width="1.8" fill="none"/>
<path d="M624.4 1092.2h16.8M624.4 1184.4h16.8" stroke="#f5a630" stroke-width="1.9" fill="none"/>
<path d="M684.4 1098.0V1189.6" stroke="#eeaa40" stroke-width="1.8" fill="none"/>
<path d="M676.0 1098.0h16.8M676.0 1189.6h16.8" stroke="#f5a630" stroke-width="1.9" fill="none"/>
<path d="M747.6 1111.0V1202.4" stroke="#eeaa40" stroke-width="1.8" fill="none"/>
<path d="M739.2 1111.0h16.8M739.2 1202.4h16.8" stroke="#f5a630" stroke-width="1.9" fill="none"/>
<path d="M879.6 1017.0V1107.6" stroke="#eeaa40" stroke-width="1.8" fill="none"/>
<path d="M871.2 1017.0h16.8M871.2 1107.6h16.8" stroke="#f5a630" stroke-width="1.9" fill="none"/>
<path d="M266.6 1179.5 L387.4 1233.4 L451.4 1151.0 L499.6 1191.6 L545.2 1174.2 L589.6 1172.8 L632.8 1138.3 L684.4 1143.8 L747.6 1156.7 L879.6 1062.3" stroke="#f7a21e" stroke-width="2.8" fill="none" stroke-linejoin="round"/>
<rect x="263.0" y="1175.9" width="7.2" height="7.2" fill="#ffa50a"/>
<rect x="383.8" y="1229.8" width="7.2" height="7.2" fill="#ffa50a"/>
<rect x="447.8" y="1147.4" width="7.2" height="7.2" fill="#ffa50a"/>
<rect x="496.0" y="1188.0" width="7.2" height="7.2" fill="#ffa50a"/>
<rect x="541.6" y="1170.6" width="7.2" height="7.2" fill="#ffa50a"/>
<rect x="586.0" y="1169.2" width="7.2" height="7.2" fill="#ffa50a"/>
<rect x="629.2" y="1134.7" width="7.2" height="7.2" fill="#ffa50a"/>
<rect x="680.8" y="1140.2" width="7.2" height="7.2" fill="#ffa50a"/>
<rect x="744.0" y="1153.1" width="7.2" height="7.2" fill="#ffa50a"/>
<rect x="876.0" y="1058.7" width="7.2" height="7.2" fill="#ffa50a"/>
<path d="M177.6 1135.0V1220.6" stroke="#1010c0" stroke-width="1.8" fill="none"/>
<path d="M169.2 1135.0h16.8M169.2 1220.6h16.8" stroke="#0c0cc8" stroke-width="1.9" fill="none"/>
<path d="M335.2 1157.0V1247.4" stroke="#1010c0" stroke-width="1.8" fill="none"/>
<path d="M326.8 1157.0h16.8M326.8 1247.4h16.8" stroke="#0c0cc8" stroke-width="1.9" fill="none"/>
<path d="M414.4 1156.0V1247.6" stroke="#1010c0" stroke-width="1.8" fill="none"/>
<path d="M406.0 1156.0h16.8M406.0 1247.6h16.8" stroke="#0c0cc8" stroke-width="1.9" fill="none"/>
<path d="M479.5 1101.0V1192.2" stroke="#1010c0" stroke-width="1.8" fill="none"/>
<path d="M471.1 1101.0h16.8M471.1 1192.2h16.8" stroke="#0c0cc8" stroke-width="1.9" fill="none"/>
<path d="M539.6 1114.6V1207.0" stroke="#1010c0" stroke-width="1.8" fill="none"/>
<path d="M531.2 1114.6h16.8M531.2 1207.0h16.8" stroke="#0c0cc8" stroke-width="1.9" fill="none"/>
<path d="M595.6 1130.4V1222.6" stroke="#1010c0" stroke-width="1.8" fill="none"/>
<path d="M587.2 1130.4h16.8M587.2 1222.6h16.8" stroke="#0c0cc8" stroke-width="1.9" fill="none"/>
<path d="M653.6 1124.4V1216.0" stroke="#1010c0" stroke-width="1.8" fill="none"/>
<path d="M645.2 1124.4h16.8M645.2 1216.0h16.8" stroke="#0c0cc8" stroke-width="1.9" fill="none"/>
<path d="M719.6 1083.4V1175.4" stroke="#1010c0" stroke-width="1.8" fill="none"/>
<path d="M711.2 1083.4h16.8M711.2 1175.4h16.8" stroke="#0c0cc8" stroke-width="1.9" fill="none"/>
<path d="M803.4 1111.4V1201.0" stroke="#1010c0" stroke-width="1.8" fill="none"/>
<path d="M795.0 1111.4h16.8M795.0 1201.0h16.8" stroke="#0c0cc8" stroke-width="1.9" fill="none"/>
<path d="M973.2 1031.6V1119.6" stroke="#1010c0" stroke-width="1.8" fill="none"/>
<path d="M964.8 1031.6h16.8M964.8 1119.6h16.8" stroke="#0c0cc8" stroke-width="1.9" fill="none"/>
<path d="M177.6 1177.8 L335.2 1202.2 L414.4 1201.8 L479.5 1146.6 L539.6 1160.8 L595.6 1176.5 L653.6 1170.2 L719.6 1129.4 L803.4 1156.2 L973.2 1075.6" stroke="#0808dd" stroke-width="2.8" fill="none" stroke-linejoin="round"/>
<path d="M177.6 1172.8L182.6 1177.8L177.6 1182.8L172.6 1177.8Z" fill="#0000f5"/>
<path d="M335.2 1197.2L340.2 1202.2L335.2 1207.2L330.2 1202.2Z" fill="#0000f5"/>
<path d="M414.4 1196.8L419.4 1201.8L414.4 1206.8L409.4 1201.8Z" fill="#0000f5"/>
<path d="M479.5 1141.6L484.5 1146.6L479.5 1151.6L474.5 1146.6Z" fill="#0000f5"/>
<path d="M539.6 1155.8L544.6 1160.8L539.6 1165.8L534.6 1160.8Z" fill="#0000f5"/>
<path d="M595.6 1171.5L600.6 1176.5L595.6 1181.5L590.6 1176.5Z" fill="#0000f5"/>
<path d="M653.6 1165.2L658.6 1170.2L653.6 1175.2L648.6 1170.2Z" fill="#0000f5"/>
<path d="M719.6 1124.4L724.6 1129.4L719.6 1134.4L714.6 1129.4Z" fill="#0000f5"/>
<path d="M803.4 1151.2L808.4 1156.2L803.4 1161.2L798.4 1156.2Z" fill="#0000f5"/>
<path d="M973.2 1070.6L978.2 1075.6L973.2 1080.6L968.2 1075.6Z" fill="#0000f5"/>
<rect x="141" y="973.1" width="854.5" height="327.30000000000007" fill="none" stroke="#000" stroke-width="2.4"/>
<line x1="133.5" y1="1033.3" x2="141" y2="1033.3" stroke="#000" stroke-width="2.2"/>
<text x="119.5" y="1042.4" text-anchor="end" font-size="24.6">0.08</text>
<line x1="133.5" y1="1097.1" x2="141" y2="1097.1" stroke="#000" stroke-width="2.2"/>
<text x="119.5" y="1106.2" text-anchor="end" font-size="24.6">0.04</text>
<line x1="133.5" y1="1160.9" x2="141" y2="1160.9" stroke="#000" stroke-width="2.2"/>
<text x="119.5" y="1170.0" text-anchor="end" font-size="24.6">0.00</text>
<line x1="133.5" y1="1224.6" x2="141" y2="1224.6" stroke="#000" stroke-width="2.2"/>
<text x="119.5" y="1233.7" text-anchor="end" font-size="24.6">-0.04</text>
<line x1="133.5" y1="1288.4" x2="141" y2="1288.4" stroke="#000" stroke-width="2.2"/>
<text x="119.5" y="1297.5" text-anchor="end" font-size="24.6">-0.08</text>
<line x1="172.4" y1="1300.4" x2="172.4" y2="1307.9" stroke="#000" stroke-width="2.2"/>
<text x="172.4" y="1331.8" text-anchor="middle" font-size="24.6">0.30</text>
<line x1="271.3" y1="1300.4" x2="271.3" y2="1307.9" stroke="#000" stroke-width="2.2"/>
<text x="271.3" y="1331.8" text-anchor="middle" font-size="24.6">0.35</text>
<line x1="370.2" y1="1300.4" x2="370.2" y2="1307.9" stroke="#000" stroke-width="2.2"/>
<text x="370.2" y="1331.8" text-anchor="middle" font-size="24.6">0.40</text>
<line x1="469.1" y1="1300.4" x2="469.1" y2="1307.9" stroke="#000" stroke-width="2.2"/>
<text x="469.1" y="1331.8" text-anchor="middle" font-size="24.6">0.45</text>
<line x1="568.0" y1="1300.4" x2="568.0" y2="1307.9" stroke="#000" stroke-width="2.2"/>
<text x="568.0" y="1331.8" text-anchor="middle" font-size="24.6">0.50</text>
<line x1="666.9" y1="1300.4" x2="666.9" y2="1307.9" stroke="#000" stroke-width="2.2"/>
<text x="666.9" y="1331.8" text-anchor="middle" font-size="24.6">0.55</text>
<line x1="765.8" y1="1300.4" x2="765.8" y2="1307.9" stroke="#000" stroke-width="2.2"/>
<text x="765.8" y="1331.8" text-anchor="middle" font-size="24.6">0.60</text>
<line x1="864.7" y1="1300.4" x2="864.7" y2="1307.9" stroke="#000" stroke-width="2.2"/>
<text x="864.7" y="1331.8" text-anchor="middle" font-size="24.6">0.65</text>
<line x1="963.6" y1="1300.4" x2="963.6" y2="1307.9" stroke="#000" stroke-width="2.2"/>
<text x="963.6" y="1331.8" text-anchor="middle" font-size="24.6">0.70</text>
<text transform="translate(29.7,1137.5) rotate(-90)" text-anchor="middle" font-size="25.2">Difference between predicted</text>
<text transform="translate(60.5,1132.5) rotate(-90)" text-anchor="middle" font-size="25.2">and observed diabetes risk</text>
<text x="568.2" y="1366.5" text-anchor="middle" font-size="25.2">Predicted probability of diabetes</text>
<rect x="528.4" y="1243.4" width="193.70000000000005" height="51.59999999999991" fill="#fff" stroke="#000" stroke-width="2.0"/>
<line x1="535.1" y1="1254.0" x2="553.0" y2="1254.0" stroke="#dd1818" stroke-width="2.5"/>
<text x="559.6999999999999" y="1257.5" font-size="8.6">GRAdient Boosted LD adjusted (GraBLD)</text>
<line x1="535.1" y1="1264.3" x2="553.0" y2="1264.3" stroke="#22e022" stroke-width="2.5"/>
<text x="559.6999999999999" y="1267.8" font-size="8.6">Pruning and Thresholding</text>
<line x1="535.1" y1="1274.8" x2="553.0" y2="1274.8" stroke="#f7a21e" stroke-width="2.5"/>
<text x="559.6999999999999" y="1278.3" font-size="8.6">Unadjusted Gene Score</text>
<line x1="535.1" y1="1285.3" x2="553.0" y2="1285.3" stroke="#0808dd" stroke-width="2.5"/>
<text x="559.6999999999999" y="1288.8" font-size="8.6">LDpred</text>
</svg>
</body></html>
